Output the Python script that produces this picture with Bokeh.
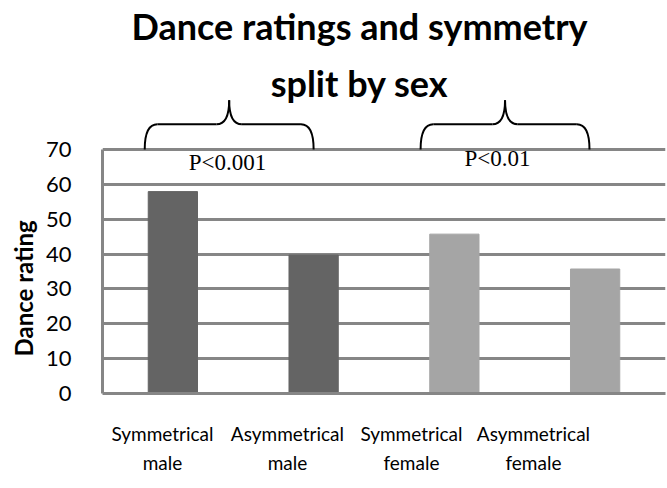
import numpy as np
from bokeh.plotting import figure
from bokeh.models import Range1d, FixedTicker, Label, Title, ColumnDataSource
from bokeh.embed import file_html
from bokeh.resources import INLINE

# ---- data ----
categories = ["Symmetrical\nmale", "Asymmetrical\nmale", "Symmetrical\nfemale", "Asymmetrical\nfemale"]
ratings = [57.9, 39.7, 45.7, 35.7]
bar_colors = ["#646464", "#646464", "#A5A5A5", "#A5A5A5"]
y_ticks = [0, 10, 20, 30, 40, 50, 60, 70]
p_labels = ["P<0.001", "P<0.01"]

# ---- annotation geometry (data units) ----
label_pos = [0.426, 1.314, 2.195, 3.062]
brace_spans = [(0.30, 0.90, 1.50), (2.26, 2.86, 3.46)]
p_label_xy = [(0.888, 66.3), (2.806, 67.4)]
brace_base, brace_flat, brace_peak = 70.0, 77.2, 84.1

GRAY = "#868686"
SANS = "Lato"

p = figure(width=667, height=488, output_backend="svg", toolbar_location=None,
           x_range=Range1d(0, 4), y_range=Range1d(0, 112.7),
           min_border_left=102, min_border_right=2, min_border_top=0, min_border_bottom=95)
p.outline_line_color = None
p.xgrid.grid_line_color = None
p.ygrid.grid_line_color = GRAY
p.ygrid.grid_line_width = 3

x = np.arange(len(categories)) + 0.5
src = ColumnDataSource(dict(x=x, top=ratings, color=bar_colors))
p.vbar(x="x", top="top", width=0.35, color="color", source=src)

# y axis
p.yaxis.ticker = FixedTicker(ticks=y_ticks)
p.yaxis.bounds = (0, 70)
p.yaxis.axis_line_color = GRAY
p.yaxis.axis_line_width = 3
p.yaxis.major_tick_line_color = None
p.yaxis.minor_tick_line_color = None
p.yaxis.major_label_standoff = 25
p.yaxis.major_label_text_font = SANS
p.yaxis.major_label_text_font_size = "22px"
p.yaxis.major_label_text_color = "#000000"

# x axis
p.xaxis.ticker = FixedTicker(ticks=label_pos)
p.xaxis.major_label_overrides = {lp: c for lp, c in zip(label_pos, categories)}
p.xaxis.bounds = (0, 4)
p.xaxis.axis_line_color = GRAY
p.xaxis.axis_line_width = 3
p.xaxis.major_tick_line_color = None
p.xaxis.minor_tick_line_color = None
p.xaxis.major_label_standoff = 22
p.xaxis.major_label_text_font = SANS
p.xaxis.major_label_text_font_size = "19px"
p.xaxis.major_label_text_line_height = 1.3
p.xaxis.major_label_text_color = "#000000"

# y axis title (side panel title, placed from the bottom of the frame)
p.add_layout(Title(text="Dance rating", text_font=SANS, text_font_style="bold",
                   text_font_size="24px", align="left", offset=37, standoff=10,
                   text_color="black"), "left")

# braces
for (x0, xm, x1) in brace_spans:
    dx = 0.09
    p.quadratic(x0=[x0, xm - dx, xm, x1 - dx], y0=[brace_base, brace_flat, brace_peak, brace_flat],
                x1=[x0 + dx, xm, xm + dx, x1], y1=[brace_flat, brace_peak, brace_flat, brace_base],
                cx=[x0, xm, xm, x1], cy=[brace_flat, brace_flat, brace_flat, brace_flat],
                line_color="black", line_width=2)
    p.segment(x0=[x0 + dx, xm + dx], y0=[brace_flat, brace_flat],
              x1=[xm - dx, x1 - dx], y1=[brace_flat, brace_flat],
              line_color="black", line_width=2)

for txt, (lx, ly) in zip(p_labels, p_label_xy):
    p.add_layout(Label(x=lx, y=ly, text=txt, text_font="Liberation Serif", text_font_size="23px",
                       text_align="center", text_baseline="middle", text_color="black"))

# title
p.add_layout(Label(x=1.826, y=105.5, text="Dance ratings and symmetry", text_font=SANS,
                   text_font_style="bold", text_font_size="36px", text_align="center",
                   text_baseline="alphabetic", text_color="black"))
p.add_layout(Label(x=1.826, y=88.9, text="split by sex", text_font=SANS,
                   text_font_style="bold", text_font_size="36px", text_align="center",
                   text_baseline="alphabetic", text_color="black"))

open("out.html", "w").write(file_html(p, INLINE))
